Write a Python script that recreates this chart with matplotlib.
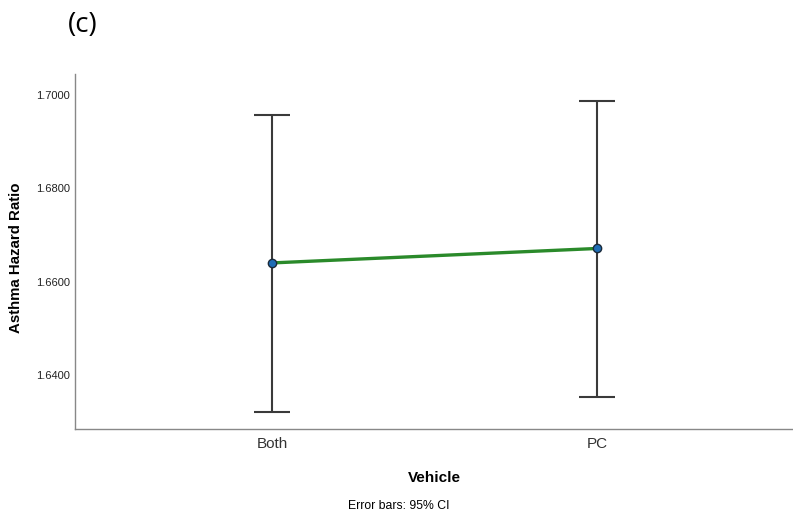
import matplotlib.pyplot as plt

plt.rcParams["font.family"] = ["Liberation Sans", "DejaVu Sans"]

vehicles = ["Both", "PC"]
means = [1.6640, 1.6671]
ci_low = [1.6321, 1.6353]
ci_high = [1.6957, 1.6988]

yticks = [1.64, 1.66, 1.68, 1.70]

fig = plt.figure(figsize=(7.93, 5.14), dpi=100)
ax = fig.add_axes([0.0946, 0.1654, 0.9054, 0.6906])

xs = list(range(len(vehicles)))
err = [[m - lo for m, lo in zip(means, ci_low)],
       [hi - m for m, hi in zip(means, ci_high)]]

ax.errorbar(xs, means, yerr=err, fmt="none", ecolor="#3a3a3a",
            elinewidth=1.5, capsize=13, capthick=1.5, zorder=2)
ax.plot(xs, means, color="#2a8a2a", lw=2.4, zorder=3)
ax.plot(xs, means, "o", ms=6, mfc="#1f6db5", mec="#1a2a3a", mew=1.0, zorder=4)

ax.set_xlim(-0.606, 1.603)
ax.set_ylim(1.6284, 1.7045)
ax.set_xticks(xs)
ax.set_xticklabels(vehicles, fontsize=11, color="#333333")
ax.set_yticks(yticks)
ax.set_yticklabels([f"{t:.4f}" for t in yticks], fontsize=8, color="#222222")
ax.tick_params(axis="both", length=0)
ax.tick_params(axis="y", pad=3.6)
ax.tick_params(axis="x", pad=6)

for side in ("top", "right"):
    ax.spines[side].set_visible(False)
for side in ("left", "bottom"):
    ax.spines[side].set_color("#888888")
    ax.spines[side].set_linewidth(1.0)

ax.set_ylabel("Asthma Hazard Ratio", fontsize=10.8, fontweight="bold", labelpad=8)
ax.yaxis.set_label_coords(-0.072, 0.483)
ax.set_xlabel("Vehicle", fontsize=11, fontweight="bold", labelpad=14)

fig.text(0.503, 0.003, "Error bars: 95% CI", fontsize=8.8, ha="center", va="bottom")
fig.text(0.086, 0.951, "(c)", fontsize=20, ha="left", va="center",
         family=["Open Sans", "DejaVu Sans"])

fig.savefig("out.png", dpi=100)
